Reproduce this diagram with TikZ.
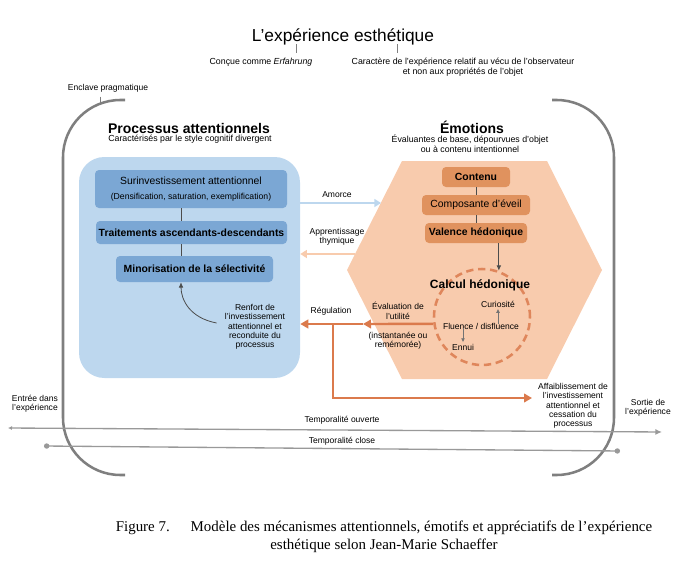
\documentclass[tikz,border=0pt]{standalone}
\usepackage{fontspec}
\setmainfont{Liberation Sans}
\newfontfamily\legende{Liberation Serif}
\usetikzlibrary{arrows.meta}
\definecolor{bleuclair}{HTML}{BDD7EE}
\definecolor{bleufonce}{HTML}{7BA7D4}
\definecolor{peche}{HTML}{F8CBAD}
\definecolor{orangebox}{HTML}{E0925E}
\definecolor{orangefl}{HTML}{DB7A4C}
\definecolor{gristrait}{HTML}{7F7F7F}
\definecolor{gristemps}{HTML}{999999}
\tikzset{
  note/.style={font=\fontsize{6.4}{7}\selectfont, align=center, inner sep=0pt},
  bbox/.style={fill=bleufonce, rounded corners=3pt, inner sep=0pt, align=center,
    font=\fontsize{7.8}{9}\selectfont},
  obox/.style={fill=orangebox, rounded corners=3pt, inner sep=0pt, align=center,
    minimum height=15pt, font=\fontsize{7.8}{9}\selectfont},
  lien/.style={draw=black!70, line width=0.6pt},
  tick/.style={draw=gristrait, line width=0.7pt},
  parenthese/.style={draw=gristrait, line width=1.9pt, rounded corners=43pt},
  regul/.style={draw=orangefl, line width=1.8pt, -{Triangle[length=6pt,width=6.5pt]}},
  temps/.style={draw=gristemps, line width=1pt}
}
\begin{document}
\begin{tikzpicture}[x=0.75pt, y=-0.75pt]
  \useasboundingbox (0,0) rectangle (690,578);

  % titre et remarques
  \node[font=\fontsize{13}{15}\selectfont] (titre) at (343,37) {L’expérience esthétique};
  \node[font=\fontsize{6.6}{7.6}\selectfont] (erf) at (261,62) {Conçue comme \textit{Erfahrung}};
  \node[font=\fontsize{6.6}{7.6}\selectfont, align=center] (vecu) at (463,67)
    {Caractère de l'expérience relatif au vécu de l'observateur\\et non aux propriétés de l'objet};
  \coordinate (t1) at (296,44);
  \coordinate (t2) at (397,44);
  \draw[tick] (t1) -- (t1 |- erf.north);
  \draw[tick] (t2) -- (t2 |- vecu.north);

  % enclave pragmatique
  \node[font=\fontsize{6.4}{7}\selectfont] (enclave) at (108,88) {Enclave pragmatique};
  \coordinate (encl) at (100,104);
  \draw[tick] (encl |- enclave.south) -- (encl);
  \draw[parenthese] (125,100) -- (63,100) -- (63,475) -- (125,475);
  \draw[parenthese] (552,100) -- (614,100) -- (614,475) -- (552,475);

  % processus attentionnels
  \node[font=\fontsize{10.5}{12}\selectfont\bfseries] (proc) at (189,128) {Processus attentionnels};
  \node[font=\fontsize{6.6}{7.6}\selectfont] (procsous) at (190,139) {Caractérisés par le style cognitif divergent};
  \node[fill=bleuclair, rounded corners=19pt, minimum width=165.75pt, minimum height=165.75pt] (attn) at (189.5,267.5) {};
  \node[bbox, minimum width=144pt, minimum height=28.5pt] (b1) at (191,189)
    {Surinvestissement attentionnel\\[2pt]{\fontsize{6.5}{7}\selectfont(Densification, saturation, exemplification)}};
  \node[bbox, minimum width=143.25pt, minimum height=17.25pt, font=\fontsize{7.8}{9}\selectfont\bfseries] (b2) at (191.5,232.5)
    {Traitements ascendants-descendants};
  \node[bbox, minimum width=117.75pt, minimum height=19.5pt, font=\fontsize{7.8}{9}\selectfont\bfseries] (b3) at (194.5,269)
    {Minorisation de la sélectivité};
  \coordinate (axe) at (181,0);
  \draw[lien] (b1.south -| axe) -- (b2.north -| axe);
  \draw[lien] (b2.south -| axe) -- (b3.north -| axe);
  \node[note] (renfort) at (255,327)
    {Renfort de\\l'investissement\\attentionnel et\\reconduite du\\processus};
  \draw[lien, -{Latex[length=4pt,width=3.5pt]}] ([xshift=-6pt,yshift=3pt]renfort.west)
    .. controls (190,318) and (181,300) .. (b3.south -| axe);

  % emotions
  \node[font=\fontsize{10.5}{12}\selectfont\bfseries] (emo) at (472,127) {Émotions};
  \node[font=\fontsize{6.6}{7.6}\selectfont, align=center] (emosous) at (470,144)
    {Évaluantes de base, dépourvues d'objet\\ou à contenu intentionnel};
  \fill[peche] (402,161) -- (547,161) -- (602,270) -- (547,379) -- (402,379) -- (347,270) -- cycle;
  \node[obox, minimum width=51pt, font=\fontsize{7.8}{9}\selectfont\bfseries] (contenu) at (476,177) {Contenu};
  \node[obox, minimum width=81pt] (compo) at (476,205) {Composante d'éveil};
  \node[obox, minimum width=76.5pt, font=\fontsize{7.8}{9}\selectfont\bfseries] (valence) at (476,233) {Valence hédonique};
  \draw[lien] (contenu) -- (compo);
  \draw[lien] (compo) -- (valence);
  \node[circle, draw=orangefl!85!peche, line width=1.9pt, dash pattern=on 5.5pt off 3.5pt,
    minimum size=72pt] (calcul) at (482,317) {};
  \draw[lien, -{Latex[length=4pt,width=3.5pt]}] (valence.south -| calcul.70) -- (calcul.70);
  \node[font=\fontsize{9}{10}\selectfont\bfseries] (calcultxt) at (480,285) {Calcul hédonique};
  \node[note] (curio) at (498,304) {Curiosité};
  \node[note] (fluence) at (481,326) {Fluence / disfluence};
  \node[note] (ennui) at (463,347) {Ennui};
  \draw[lien, draw=black!55, -{Latex[length=3pt,width=3pt]}] ([yshift=-1pt]fluence.north -| curio) -- ([yshift=-1pt]curio.south);
  \draw[lien, draw=black!55, -{Latex[length=3pt,width=3pt]}] ([yshift=1pt]fluence.south -| ennui) -- ([yshift=1pt]ennui.north);
  \node[note] (utilite) at (398,311) {Évaluation de\\l'utilité};
  \node[note] (instant) at (398,341) {(instantanée ou\\remémorée)};

  % liens entre les deux
  \coordinate (amorcefin) at (381,203);
  \coordinate (thymdeb) at (355,254);
  \node[note] (amorce) at (337,195) {Amorce};
  \draw[draw=bleuclair, line width=1.6pt, -{Triangle[length=5pt,width=6pt]}] (attn.east |- amorcefin) -- (amorcefin);
  \node[note] (thym) at (337,237) {Apprentissage\\thymique};
  \draw[draw=peche, line width=1.6pt, -{Triangle[length=5pt,width=6pt]}] (thymdeb) -- (thymdeb -| attn.east);
  \node[note] (regulation) at (331,311) {Régulation};
  \coordinate (relais) at (363,324);
  \coordinate (branche) at (333,324);
  \coordinate (affaibfin) at (532,398);
  \draw[regul] (calcul.188) -- (relais);
  \draw[regul] (relais) -- (relais -| attn.east);
  \draw[regul] (branche) |- (affaibfin);
  \node[note] (affaib) at (573,406)
    {Affaiblissement de\\l'investissement\\attentionnel et\\cessation du\\processus};

  % temporalites
  \node[note] (entree) at (35,404) {Entrée dans\\l'expérience};
  \node[note] (sortie) at (648,408) {Sortie de\\l'expérience};
  \node[note] (ouverte) at (342,420) {Temporalité ouverte};
  \node[note] (close) at (342,441) {Temporalité close};
  \coordinate (od) at (8,428);
  \coordinate (of) at (662,432);
  \coordinate (cd) at (44,446);
  \coordinate (cf) at (620,451);
  \draw[temps, {Latex[length=3pt,width=3pt]}-{Latex[length=5pt,width=4.5pt]}] (od) -- (of);
  \draw[temps, {Circle[length=4pt]}-{Circle[length=4pt]}] (cd) -- (cf);

  % legende
  \node[font=\legende\fontsize{11.2}{13.8}\selectfont, align=center] (leg) at (384,537)
    {Figure 7.\hspace{1.4em}Modèle des mécanismes attentionnels, émotifs et appréciatifs de l’expérience\\
     esthétique selon Jean-Marie Schaeffer};
\end{tikzpicture}
\end{document}
